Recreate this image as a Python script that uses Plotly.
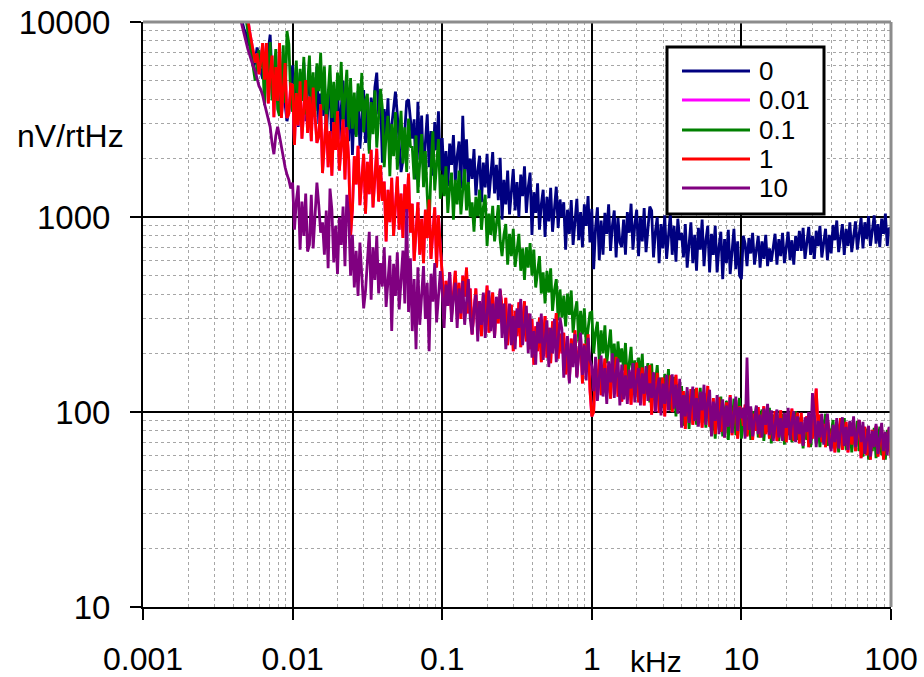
import numpy as np
import plotly.graph_objects as go

# Measurement frequencies (kHz), 80 points per decade
freq_khz = np.logspace(-2.4, 2.0, 353)

series_names = ["0", "0.01", "0.1", "1", "10"]
series_colors = ["#000080", "#FF00FF", "#008000", "#FF0000", "#800080"]

# Noise density, nV/rtHz (one row = 0.2 decade)
v_0 = [
    16000, 14500, 13500, 12000, 11000, 10000, 9200, 8800, 7800, 7600, 7000, 5900, 6200, 7400, 6800, 5600,
    5100, 6400, 5600, 7200, 8600, 5200, 6000, 4700, 4500, 3900, 3300, 4600, 3900, 3100, 3500, 4300,
    6000, 3200, 4900, 2900, 5500, 4000, 6200, 3100, 4500, 5700, 2800, 5200, 3500, 5900, 3000, 4300,
    3300, 5200, 2600, 3800, 4750, 2350, 4300, 2950, 5000, 2500, 3600, 5000, 2700, 4150, 2450, 4600,
    2080, 3840, 2620, 4420, 2240, 3200, 4480, 2400, 3680, 2180, 4100, 2940, 4640, 5500, 3360, 4220,
    1900, 3580, 2580, 4060, 2020, 2940, 3700, 4400, 3360, 2300, 1700, 1960, 2800, 3920, 4000, 3220,
    2520, 3170, 1560, 3900, 1970, 3310, 1680, 2400, 3360, 1800, 2760, 1630, 3070, 2210, 3480, 1730,
    2540, 1560, 2180, 1440, 2380, 1850, 2630, 1520, 2050, 2440, 1400, 3300, 1680, 2500, 1480, 1990,
    1570, 2230, 1290, 1730, 2060, 1190, 1900, 1420, 2110, 1250, 1680, 2150, 1320, 1850, 1220, 2010,
    970, 1550, 1160, 1730, 1030, 1380, 1760, 1080, 1510, 1000, 1650, 1280, 1820, 1050, 1420, 1690,
    810, 1340, 1050, 1490, 860, 1160, 1380, 790, 1270, 950, 1410, 840, 1120, 1430, 880, 1230,
    1000, 1190, 680, 1090, 820, 1220, 720, 970, 1240, 760, 1060, 700, 1160, 900, 1280, 740,
    1100, 540, 880, 1120, 600, 960, 640, 1050, 820, 1160, 670, 900, 1080, 620, 990, 740,
    700, 970, 640, 1060, 830, 1170, 680, 910, 1090, 630, 1000, 750, 1110, 660, 890, 1130,
    1080, 620, 840, 1000, 580, 920, 690, 1020, 610, 820, 1040, 640, 900, 590, 980, 760,
    830, 620, 920, 550, 730, 940, 580, 810, 530, 880, 680, 970, 560, 760, 900, 520,
    820, 640, 900, 520, 700, 840, 480, 770, 580, 860, 510, 680, 870, 540, 750, 500,
    480, 800, 730, 560, 780, 650, 830, 570, 700, 800, 550, 750, 610, 810, 560, 690,
    590, 720, 820, 570, 770, 630, 830, 580, 710, 840, 600, 760, 570, 800, 670, 850,
    670, 880, 610, 750, 890, 640, 800, 610, 850, 710, 900, 620, 760, 870, 600, 810,
    650, 910, 760, 960, 660, 810, 920, 640, 870, 710, 940, 660, 800, 950, 680, 850,
    990, 690, 940, 770, 1010, 710, 860, 1020, 730, 920, 700, 980, 820, 1040, 710, 880,
    860,
]

v_01 = [
    22000, 20000, 18000, 16500, 15000, 13500, 12000, 10500, 9000, 7600, 6500, 5600, 5000, 6200, 7200, 5900,
    6300, 3740, 7000, 5060, 7900, 3960, 5780, 7260, 3580, 3300, 4510, 7590, 3850, 9000, 7700, 4120,
    3460, 5040, 6340, 3120, 5760, 3940, 6620, 3360, 4800, 6720, 3600, 5520, 3260, 6140, 4420, 6960,
    3530, 5930, 3010, 4300, 6020, 3220, 4940, 2920, 5500, 3960, 6240, 3100, 4520, 5680, 2800, 5160,
    2840, 4350, 2570, 4840, 3480, 5480, 2720, 3970, 4280, 2110, 3890, 2660, 4470, 2270, 3240, 4540,
    3620, 1800, 2620, 3300, 1620, 3000, 2050, 3450, 1750, 2500, 3500, 1880, 2880, 1700, 3200, 2300,
    2280, 1560, 2620, 1330, 1900, 2660, 1420, 2180, 1290, 880, 1750, 2750, 1370, 2000, 2510, 1240,
    1650, 1280, 1820, 1050, 1420, 1690, 970, 1550, 1160, 1730, 1030, 1380, 1760, 1080, 1510, 1000,
    1190, 840, 1270, 1010, 1380, 860, 1120, 1300, 710, 1040, 810, 1140, 750, 920, 1150, 760,
    630, 810, 920, 570, 820, 630, 870, 555, 670, 820, 530, 690, 475, 700, 550, 735,
    500, 680, 435, 520, 630, 405, 520, 360, 530, 410, 545, 330, 420, 480, 295, 425,
    305, 395, 275, 405, 315, 420, 255, 325, 370, 230, 330, 250, 340, 220, 265, 322,
    325, 200, 255, 290, 182, 262, 200, 278, 178, 216, 265, 173, 224, 156, 230, 180,
    212, 163, 226, 145, 176, 216, 141, 184, 128, 190, 149, 198, 122, 155, 178, 112,
    177, 115, 140, 174, 114, 150, 105, 157, 123, 166, 102, 132, 151, 95, 139, 107,
    136, 85, 110, 128, 82, 120, 93, 131, 86, 106, 133, 88, 117, 83, 125, 100,
    78, 103, 73, 111, 88, 120, 75, 98, 114, 72, 106, 83, 117, 76, 94, 118,
    73, 89, 106, 76, 95, 72, 101, 84, 107, 74, 91, 103, 71, 97, 79, 105,
    69, 97, 81, 102, 71, 87, 98, 68, 92, 76, 100, 70, 85, 101, 72, 91,
    94, 65, 88, 72, 95, 66, 81, 96, 69, 86, 66, 92, 77, 98, 67, 82,
    77, 91, 65, 82, 62, 87, 73, 93, 64, 78, 89, 62, 84, 68, 90, 63,
    85, 59, 72, 82, 57, 77, 63, 83, 58, 71, 84, 60, 76, 57, 81, 67,
    60,
]

v_1 = [
    24000, 21000, 19000, 17500, 16000, 14500, 13000, 11500, 10500, 9000, 8000, 7000, 6200, 6900, 5400, 6300,
    7800, 5060, 7800, 3820, 5460, 6730, 3250, 5880, 3940, 7800, 3220, 4500, 6160, 3220, 3400, 4800,
    4750, 2340, 4320, 2950, 4970, 2520, 3600, 5040, 2700, 4140, 2450, 4610, 3310, 2400, 2590, 3780,
    1680, 2400, 3360, 1800, 2760, 1630, 3070, 2210, 3480, 1730, 2520, 3170, 1560, 2880, 1970, 800,
    1090, 2050, 1470, 2320, 1150, 1680, 2110, 1040, 1920, 1310, 2210, 1120, 1600, 2240, 1200, 1840,
    1210, 1520, 750, 1380, 940, 1590, 800, 1150, 1610, 860, 1320, 780, 1470, 1060, 1670, 830,
    1170, 595, 850, 1190, 640, 980, 580, 1090, 780, 1230, 610, 890, 1120, 550, 1020, 700,
    510, 300, 470, 350, 520, 310, 420, 530, 330, 460, 300, 500, 390, 550, 320, 430,
    250, 340, 430, 260, 370, 245, 400, 315, 445, 255, 345, 410, 240, 380, 285, 420,
    350, 270, 385, 220, 300, 355, 205, 330, 245, 365, 215, 290, 370, 230, 320, 210,
    300, 175, 275, 205, 305, 180, 245, 310, 190, 270, 178, 292, 228, 322, 188, 252,
    200, 255, 156, 218, 144, 238, 185, 262, 152, 205, 244, 140, 224, 168, 250, 130,
    95, 100, 170, 132, 186, 122, 150, 188, 125, 165, 117, 177, 141, 192, 120, 156,
    113, 140, 175, 116, 154, 109, 165, 132, 179, 112, 146, 169, 108, 158, 123, 174,
    97, 146, 117, 159, 99, 129, 150, 95, 140, 109, 154, 100, 124, 155, 103, 136,
    110, 128, 82, 120, 93, 131, 86, 106, 133, 88, 117, 83, 125, 100, 136, 85,
    84, 118, 77, 95, 119, 79, 105, 74, 112, 89, 122, 76, 99, 115, 73, 107,
    102, 85, 109, 75, 92, 104, 72, 98, 80, 106, 74, 90, 107, 77, 96, 73,
    94, 77, 101, 71, 86, 102, 73, 92, 70, 98, 82, 104, 71, 88, 99, 69,
    99, 68, 83, 95, 66, 89, 73, 96, 132, 82, 97, 70, 87, 66, 93, 78,
    65, 82, 62, 87, 73, 93, 64, 78, 89, 62, 84, 68, 90, 63, 77, 91,
    58, 71, 84, 60, 76, 57, 81, 67, 85, 59, 72, 82, 57, 77, 63, 83,
    58,
]

# The 0.01 run coincides with the 1 run and sits underneath it
v_001 = list(v_1)

v_10 = [
    15000, 13700, 12500, 11400, 10500, 9500, 8500, 7900, 7300, 6800, 6300, 5900, 5600, 5100, 4700, 4500,
    4200, 3800, 3500, 3200, 2900, 2400, 2100, 2600, 2900, 2600, 2300, 2000, 1800, 1650, 1550, 1400,
    1500, 860, 1210, 1450, 680, 1200, 800, 1320, 665, 720, 1300, 690, 1050, 1500, 1150, 830,
    940, 640, 1080, 546, 1400, 1090, 585, 900, 510, 1000, 720, 1130, 560, 1300, 1030, 500,
    810, 435, 670, 394, 740, 534, 340, 418, 610, 840, 377, 700, 476, 800, 406, 580,
    440, 700, 346, 504, 634, 260, 576, 394, 660, 336, 480, 672, 360, 1100, 326, 614,
    260, 480, 210, 552, 280, 400, 560, 300, 460, 205, 512, 368, 580, 288, 420, 528,
    410, 270, 450, 350, 520, 290, 390, 460, 270, 430, 320, 470, 280, 380, 480, 300,
    250, 340, 400, 230, 370, 280, 410, 240, 330, 420, 260, 360, 240, 390, 300, 430,
    240, 360, 210, 290, 360, 220, 310, 210, 340, 270, 380, 220, 290, 350, 200, 320,
    190, 260, 175, 290, 225, 320, 185, 245, 295, 170, 270, 200, 300, 180, 240, 305,
    265, 150, 205, 245, 140, 225, 170, 250, 150, 200, 255, 155, 220, 145, 240, 185,
    172, 128, 192, 114, 152, 195, 120, 168, 110, 182, 142, 200, 118, 158, 188, 108,
    175, 116, 154, 110, 165, 132, 178, 112, 146, 168, 108, 158, 124, 172, 114, 140,
    118, 160, 100, 130, 150, 96, 140, 110, 155, 102, 125, 156, 104, 138, 98, 148,
    83, 122, 95, 134, 88, 108, 135, 90, 118, 84, 127, 102, 138, 86, 112, 130,
    75, 113, 90, 122, 77, 100, 116, 74, 108, 84, 119, 78, 96, 120, 80, 106,
    93, 105, 73, 190, 81, 107, 75, 91, 108, 77, 97, 74, 104, 86, 110, 76,
    102, 71, 87, 103, 74, 93, 71, 99, 83, 105, 72, 89, 101, 70, 95, 77,
    89, 67, 94, 79, 100, 69, 125, 96, 66, 90, 74, 98, 68, 83, 98, 71,
    63, 86, 70, 93, 65, 79, 94, 67, 84, 64, 90, 75, 95, 66, 80, 91,
    70, 89, 61, 75, 85, 59, 80, 66, 87, 61, 74, 88, 63, 79, 60, 84,
    70,
]

x_ticks = [0.001, 0.01, 0.1, 1, 10, 100]
x_ticktext = ["0.001", "0.01", "0.1", "1", "10", "100"]
y_ticks = [10, 100, 1000, 10000]
y_ticktext = ["10", "100", "1000", "10000"]

FONT = "Liberation Sans, Arial, sans-serif"

fig = go.Figure()
for name, color, vals in zip(series_names, series_colors, [v_0, v_001, v_01, v_1, v_10]):
    fig.add_trace(go.Scatter(
        x=freq_khz[:len(vals)], y=vals, mode="lines", name=name,
        line=dict(color=color, width=2.8), showlegend=False,
    ))

x_minor = [m * 10.0 ** e for e in range(-3, 2) for m in range(2, 10)]
y_minor = [m * 10.0 ** e for e in range(1, 4) for m in range(2, 10)]

fig.update_xaxes(
    type="log", range=[-3, 2], automargin=False,
    tickmode="array", tickvals=x_ticks, ticktext=x_ticktext,
    showgrid=True, gridcolor="black", gridwidth=2,
    showline=True, linecolor="black", linewidth=2,
    ticks="outside", ticklen=11, tickwidth=2, tickcolor="black",
    tickfont=dict(family=FONT, size=32, color="black"),
    ticklabelstandoff=12,
    minor=dict(tickmode="array", tickvals=x_minor, showgrid=True,
               gridcolor="#a6a6a6", griddash="dot", gridwidth=1, ticks=""),
    zeroline=False,
)
fig.update_yaxes(
    type="log", range=[1, 4], automargin=False,
    tickmode="array", tickvals=y_ticks, ticktext=y_ticktext,
    showgrid=True, gridcolor="black", gridwidth=2,
    showline=True, linecolor="black", linewidth=2,
    ticks="outside", ticklen=11, tickwidth=2, tickcolor="black",
    tickfont=dict(family=FONT, size=33, color="black"),
    ticklabelstandoff=13,
    minor=dict(tickmode="array", tickvals=y_minor, showgrid=True,
               gridcolor="#a6a6a6", griddash="dot", gridwidth=1, ticks=""),
    zeroline=False,
)

# Plot-area geometry in pixels, used to place the legend box
L, R, T, B = 143, 891, 22, 607
W, H = R - L, B - T


def px_x(px):
    return (px - L) / W


def px_y(py):
    return (B - py) / H


shapes = [
    # grey frame on the top and right edges
    dict(type="line", xref="paper", yref="paper", x0=0, x1=1, y0=1, y1=1,
         line=dict(color="#8c8c8c", width=3), layer="above"),
    dict(type="line", xref="paper", yref="paper", x0=1, x1=1, y0=0, y1=1,
         line=dict(color="#8c8c8c", width=3), layer="above"),
    # legend box
    dict(type="rect", xref="paper", yref="paper",
         x0=px_x(667), x1=px_x(824), y0=px_y(214), y1=px_y(47),
         line=dict(color="black", width=3), fillcolor="white", layer="above"),
]
annotations = []
legend_rows = [71, 100, 130, 159, 188]
for name, color, row in zip(series_names, series_colors, legend_rows):
    shapes.append(dict(type="line", xref="paper", yref="paper",
                       x0=px_x(682), x1=px_x(750), y0=px_y(row), y1=px_y(row),
                       line=dict(color=color, width=3), layer="above"))
    annotations.append(dict(xref="paper", yref="paper", x=px_x(757), y=px_y(row),
                            text=name, showarrow=False, xanchor="left", yanchor="middle",
                            font=dict(family=FONT, size=26, color="black")))

annotations.append(dict(xref="paper", yref="paper", x=px_x(70), y=px_y(136),
                        text="nV/rtHz", showarrow=False, xanchor="center", yanchor="middle",
                        font=dict(family=FONT, size=32, color="black")))
annotations.append(dict(xref="paper", yref="paper", x=px_x(656), y=px_y(661),
                        text="kHz", showarrow=False, xanchor="center", yanchor="middle",
                        font=dict(family=FONT, size=30, color="black")))

fig.update_layout(
    width=924, height=677,
    margin=dict(l=L, r=924 - R, t=T, b=677 - B),
    paper_bgcolor="white", plot_bgcolor="white",
    showlegend=False,
    shapes=shapes, annotations=annotations,
)

fig.write_html("out.html")
